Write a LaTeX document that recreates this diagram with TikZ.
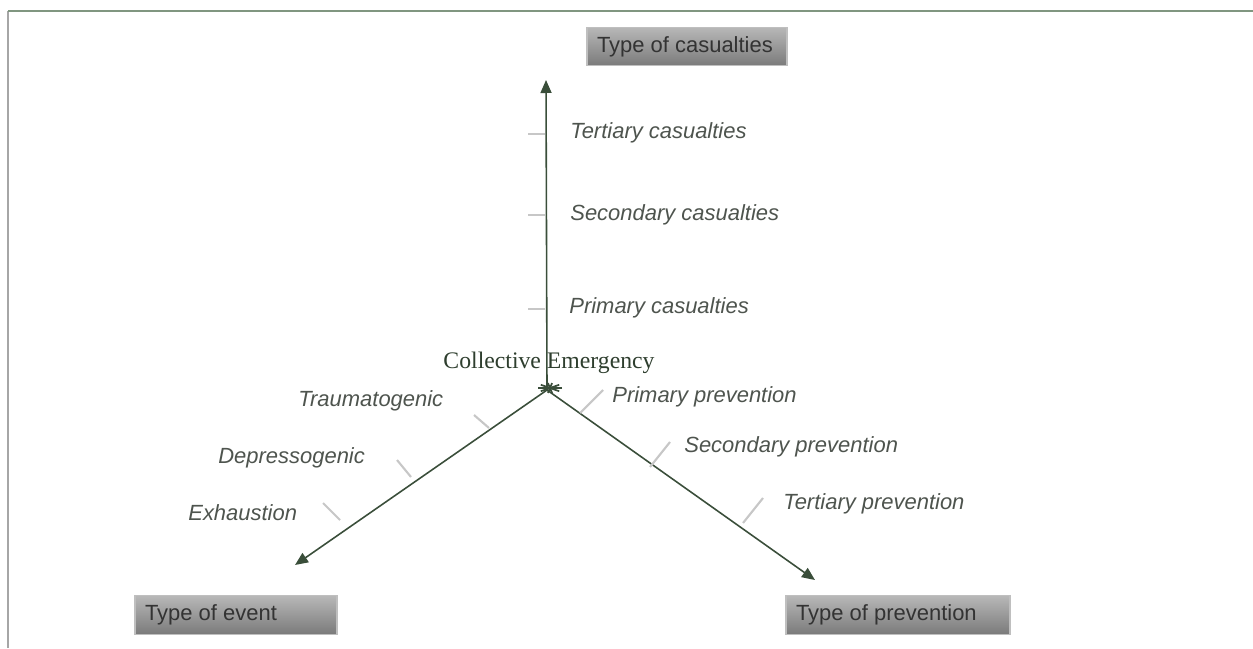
\documentclass[tikz,border=0pt]{standalone}
\usepackage{fontspec}
\setmainfont{Liberation Serif}
\newfontfamily\labelfont{Liberation Sans}
\usetikzlibrary{arrows.meta,calc}
\definecolor{axisgreen}{RGB}{58,78,58}
\definecolor{labelgray}{RGB}{78,84,78}
\definecolor{framegreen}{RGB}{128,150,128}
\tikzset{
	typebox/.style={draw=black!25, line width=0.6pt, top color=black!28, bottom color=black!52,
		text=black!80, font=\labelfont\fontsize{12.5}{15}\selectfont, align=flush left,
		minimum height=0.77cm, inner xsep=0.2cm, inner ysep=0pt},
	axislabel/.style={anchor=west, inner sep=0pt, text=labelgray,
		font=\labelfont\itshape\fontsize{12.5}{15}\selectfont},
	axis/.style={axisgreen, line width=0.9pt, -{Triangle[length=0.26cm,width=0.22cm]}},
	tick/.style={black!22, line width=1.2pt}
}
\begin{document}
\begin{tikzpicture}
			%%%%% START %%%%%
			\useasboundingbox (0, 0) rectangle (25.06, -12.96);
			
			% frame
			\draw[black!35, line width=0.8pt] (0.16, -12.96) -- (0.16, -0.22);
			\draw[framegreen, line width=1.2pt] (0.16, -0.22) -- (25.06, -0.22);
			
			% centre and arrow ends
			\coordinate (o) at (10.94, -7.8);
			\coordinate (top) at (10.92, -1.6);
			\coordinate (left) at (5.9, -11.3);
			\coordinate (right) at (16.3, -11.6);
			
			\node[font=\fontsize{13.5}{16}\selectfont, text=axisgreen!80!black, inner sep=0pt] (ce) at (10.98, -7.26) {Collective Emergency};
			
			\draw[axis] (o) -- (top);
			\draw[axis] (o) -- (left);
			\draw[axis] (o) -- (right);
			\foreach \a in {0, 40, 80, 100, 140}
				\draw[axisgreen, line width=1pt] ($(11.0, -7.76)+({0.24*cos(\a)}, {0.1*sin(\a)})$) -- ($(11.0, -7.76)-({0.24*cos(\a)}, {0.1*sin(\a)})$);
			
			% boxes
			\node[typebox, text width=3.6cm] (cas) at (13.74, -0.93) {Type of casualties};
			\node[typebox, text width=3.64cm] (evt) at (4.72, -12.3) {Type of event};
			\node[typebox, text width=4.08cm] (prev) at (17.96, -12.3) {Type of prevention};
			
			% casualties
			\node[axislabel] (tc) at (11.4, -2.66) {Tertiary casualties};
			\node[axislabel] (sc) at (11.4, -4.3) {Secondary casualties};
			\node[axislabel] (pc) at (11.38, -6.16) {Primary casualties};
			\draw[tick] (10.56, -2.68) -- (10.9, -2.68);
			\draw[tick] (10.56, -4.3) -- (10.9, -4.3);
			\draw[tick] (10.56, -6.18) -- (10.9, -6.18);
			
			% event
			\node[axislabel] (tr) at (5.96, -8.02) {Traumatogenic};
			\node[axislabel] (de) at (4.36, -9.16) {Depressogenic};
			\node[axislabel] (ex) at (3.76, -10.26) {Exhaustion};
			\draw[tick] (9.48, -8.3) -- (9.78, -8.56);
			\draw[tick] (7.94, -9.2) -- (8.22, -9.54);
			\draw[tick] (6.46, -10.06) -- (6.8, -10.4);
			
			% prevention
			\node[axislabel] (pp) at (12.24, -7.94) {Primary prevention};
			\node[axislabel] (sp) at (13.68, -8.94) {Secondary prevention};
			\node[axislabel] (tp) at (15.66, -10.08) {Tertiary prevention};
			\draw[tick] (12.06, -7.8) -- (11.6, -8.26);
			\draw[tick] (13.4, -8.84) -- (13.0, -9.34);
			\draw[tick] (15.26, -9.96) -- (14.86, -10.46);
			
			%%%%% END %%%%%
\end{tikzpicture}
\end{document}
